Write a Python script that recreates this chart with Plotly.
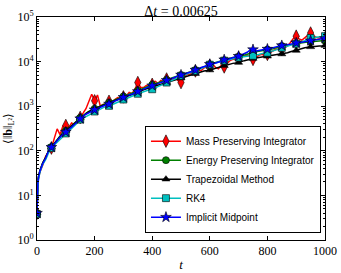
import plotly.graph_objects as go

# ---- data ----
t = [0, 1, 3, 5] + list(range(10, 1001, 10))

mass = [4.0, 9, 17, 24, 33, 48, 75, 95, 115, 190, 310, 230, 360, 370, 330, 420, 390, 470, 560, 700,
        880, 1260, 1860, 1320, 1780, 1000, 1100, 1050, 1290, 1200, 1410, 1550, 1450, 1620, 1700, 2040, 1900, 2400,
        3390, 2630, 2630, 2950, 2750, 3090, 3630, 3240, 3800, 3470, 4070, 4270, 3890, 4370, 3720, 3390, 4170,
        5250, 5010, 6030, 6170, 6460, 6310, 7240, 7590, 8130, 8710, 7410, 6920, 8320, 7590, 9120, 10500, 11200,
        11500, 12300, 12900, 13500, 14100, 13200, 11200, 12300, 13800, 14500, 13800, 14500, 15800, 17800, 19100,
        18600, 18600, 20400, 22400, 26900, 33100, 37200, 32400, 30200, 33900, 38900, 43700, 38000, 34700, 33900,
        33100, 33900]

energy = [4.0, 9, 18, 26, 36, 54, 70, 100, 122, 150, 180, 215, 250, 280, 320, 365, 420, 480, 550, 620,
          690, 760, 820, 880, 950, 1010, 1080, 1150, 1200, 1290, 1380, 1450, 1550, 1660, 1740, 1860, 1950, 2090,
          2240, 2400, 2510, 2690, 2880, 3020, 3160, 3310, 3550, 3720, 3890, 4070, 4370, 4570, 4790, 5010, 5250,
          5500, 5890, 6170, 6460, 6760, 7240, 7590, 8130, 8710, 9120, 9550, 10000, 10500, 10700, 11200, 11700,
          12300, 12600, 12900, 13500, 14100, 14800, 15500, 16200, 16600, 17000, 17400, 17800, 18600, 19100, 19500,
          20400, 21400, 22400, 22900, 23400, 24000, 24500, 25100, 25700, 26300, 26900, 27500, 28200, 28200, 28800,
          28800, 29500, 29500]

trapezoidal = [4.0, 9, 18, 26, 36, 54, 70, 100, 120, 148, 178, 214, 250, 282, 316, 355, 410, 470, 540, 610,
               680, 750, 810, 870, 930, 990, 1050, 1120, 1170, 1250, 1320, 1410, 1480, 1580, 1660, 1740, 1820, 1950,
               2090, 2190, 2340, 2450, 2570, 2690, 2820, 2950, 3090, 3240, 3390, 3550, 3720, 3890, 4070, 4270, 4470,
               4680, 4900, 5130, 5370, 5620, 5890, 6170, 6310, 6460, 6760, 7080, 7410, 7760, 8130, 8510, 8910, 9120,
               9330, 9550, 10000, 10500, 11000, 11200, 11700, 12000, 12300, 12600, 12900, 13200, 13500, 13800, 14100,
               14500, 14800, 15100, 15800, 16600, 17400, 17800, 18600, 19500, 20400, 20900, 21400, 21400, 21900,
               22400, 22400, 22900]

rk4 = [3.8, 8, 16, 22, 33, 50, 63, 90, 115, 135, 155, 182, 210, 245, 275, 310, 355, 420, 500, 540,
       590, 640, 700, 760, 810, 870, 930, 980, 1020, 1070, 1150, 1230, 1320, 1410, 1480, 1550, 1660, 1780,
       1900, 2000, 2090, 2190, 2290, 2400, 2570, 2750, 2950, 3160, 3390, 3630, 3890, 4170, 4470, 4790, 5010,
       5250, 5620, 5890, 6170, 6610, 7080, 7590, 8130, 8510, 8910, 9330, 9770, 10200, 10500, 10700, 11200,
       11500, 12000, 12300, 12600, 12900, 13200, 13500, 13500, 14100, 14500, 15100, 15500, 15800, 16600, 17400,
       18200, 19100, 20400, 21400, 22400, 23400, 24500, 25100, 26300, 27500, 29500, 31600, 33900, 34700, 35500,
       36300, 37200, 37200]

midpoint = [4.0, 9, 18, 25, 35, 52, 68, 100, 120, 145, 170, 200, 235, 263, 300, 340, 390, 450, 525, 590,
            660, 720, 780, 830, 890, 950, 1020, 1080, 1120, 1200, 1290, 1380, 1450, 1580, 1660, 1780, 1860, 2000,
            2140, 2290, 2400, 2570, 2750, 2880, 3020, 3160, 3390, 3550, 3800, 3980, 4270, 4470, 4790, 5010, 5250,
            5370, 5750, 6170, 6460, 6920, 7410, 7760, 8320, 8710, 9120, 9550, 10000, 10500, 11000, 11500, 12000,
            12600, 12900, 13200, 14100, 14800, 16200, 18200, 18600, 17400, 17800, 18600, 18600, 19100, 19500, 20400,
            21400, 22400, 22900, 23400, 24000, 24500, 25700, 26300, 27500, 28200, 28800, 29500, 29500, 30200, 30900,
            31600, 32400, 33100]

series_names = ["Mass Preserving Integrator", "Energy Preserving Integrator", "Trapezoidal Method",
                "RK4", "Implicit Midpoint"]
series_values = [mass, energy, trapezoidal, rk4, midpoint]
series_colors = ["#ff0000", "#008000", "#000000", "#00bfbf", "#0000ff"]
series_symbols = ["diamond-tall", "circle", "triangle-up", "square", "star"]
series_sizes = [9, 7, 7, 7, 8]

marker_every = 50
x_ticks = [0, 200, 400, 600, 800, 1000]
y_tick_vals = [1, 10, 100, 1000, 10000, 100000]
y_tick_text = ["10<sup>0</sup>", "10<sup>1</sup>", "10<sup>2</sup>", "10<sup>3</sup>",
               "10<sup>4</sup>", "10<sup>5</sup>"]
y_minor_vals = [m * 10 ** e for e in range(0, 5) for m in range(2, 10)]

fig = go.Figure()
mk_idx = [i for i, tv in enumerate(t) if tv % marker_every == 0]
for name, vals, col, sym, sz in zip(series_names, series_values, series_colors, series_symbols, series_sizes):
    fig.add_trace(go.Scatter(x=t, y=vals, mode="lines", line=dict(color=col, width=1.5),
                             showlegend=False, hoverinfo="skip"))
    fig.add_trace(go.Scatter(x=[t[i] for i in mk_idx], y=[vals[i] for i in mk_idx], mode="markers",
                             marker=dict(symbol=sym, size=sz, color=col, line=dict(color="black", width=0.6)),
                             showlegend=False, hoverinfo="skip"))
    fig.add_trace(go.Scatter(x=[None], y=[None], mode="lines+markers", name=name,
                             line=dict(color=col, width=1.5),
                             marker=dict(symbol=sym, size=sz, color=col, line=dict(color="black", width=0.6))))

serif = "Liberation Serif"
fig.update_layout(
    width=341, height=273,
    margin=dict(l=37, r=16, t=17, b=33, autoexpand=False),
    paper_bgcolor="white", plot_bgcolor="white",
    title=dict(text="Δ<i>t</i> = 0.00625", x=0.5, xref="paper", xanchor="center",
               y=1.0, yref="paper", yanchor="bottom", pad=dict(b=1), automargin=False,
               font=dict(family=serif, size=14, color="black")),
    legend=dict(x=0.986, y=0.033, xanchor="right", yanchor="bottom",
                bgcolor="white", bordercolor="black", borderwidth=1,
                font=dict(family="Liberation Sans", size=10, color="black"),
                itemwidth=30, tracegroupgap=0),
    showlegend=True,
    hovermode=False,
)
fig.update_xaxes(range=[0, 1000], tickvals=x_ticks, ticks="inside", ticklen=4, tickcolor="black",
                 showline=True, linecolor="black", linewidth=1, mirror="allticks", showgrid=False,
                 zeroline=False, automargin=False, tickfont=dict(family=serif, size=12, color="black"),
                 title=dict(text="<i>t</i>", font=dict(family=serif, size=13, color="black"), standoff=2))
fig.update_yaxes(type="log", range=[0, 5], tickvals=y_tick_vals, ticktext=y_tick_text,
                 ticks="inside", ticklen=4, tickcolor="black",
                 minor=dict(tickvals=y_minor_vals, ticks="inside", ticklen=2, tickcolor="black", showgrid=False),
                 showline=True, linecolor="black", linewidth=1, mirror="allticks", showgrid=False,
                 zeroline=False, automargin=False, tickfont=dict(family=serif, size=12, color="black"),
                 title=dict(text="⟨‖<b>b</b>‖<sub>L²</sub>⟩", font=dict(family=serif, size=12, color="black"),
                            standoff=2))

# remove the browser's default 8px page margin so the figure sits at the window origin
fig.write_html("out.html", config={"displayModeBar": False},
               post_script="document.body.style.margin='0';")
